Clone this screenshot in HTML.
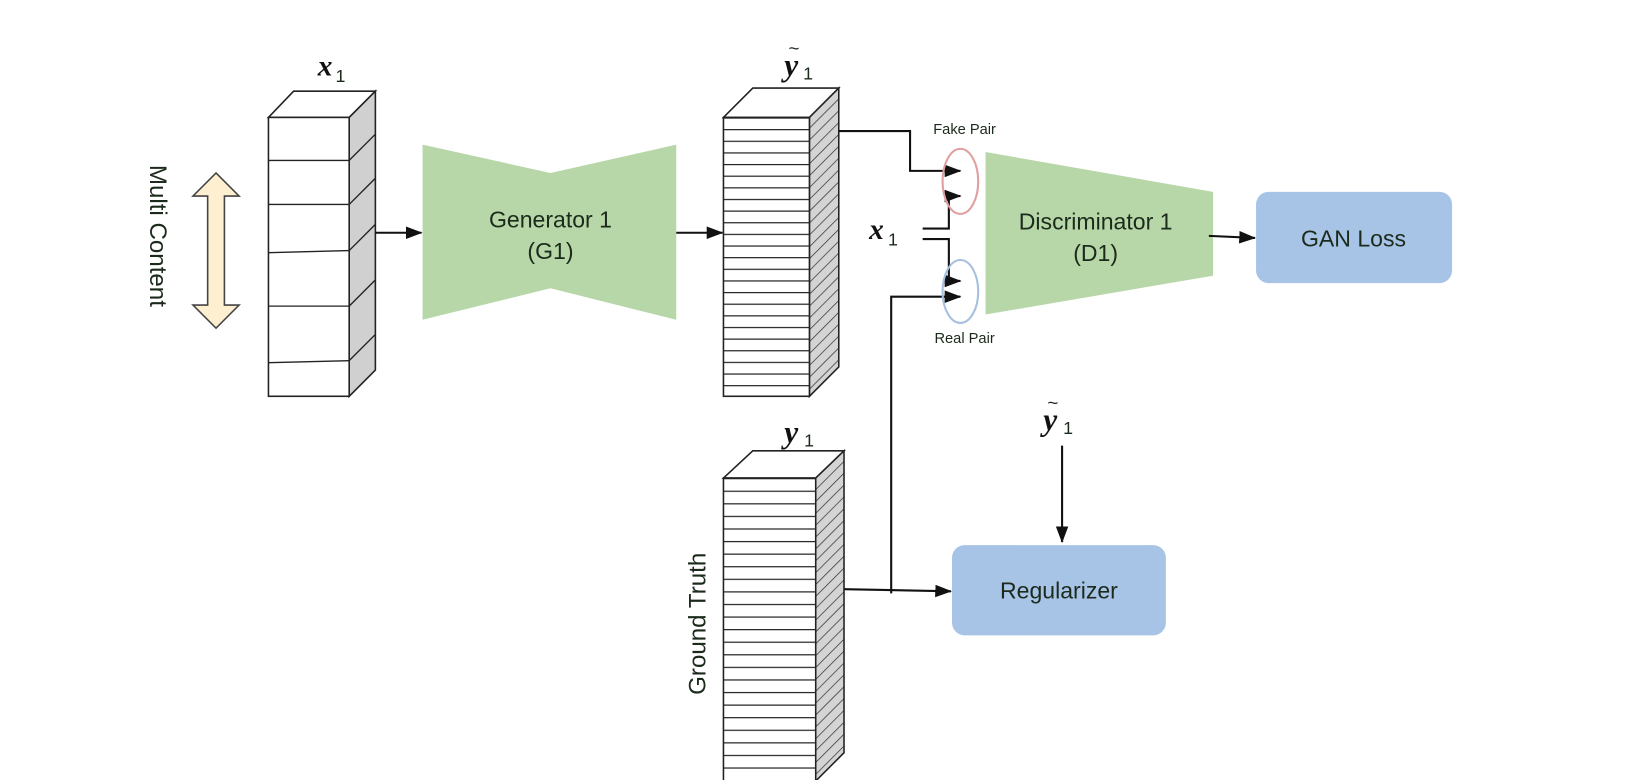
<!DOCTYPE html>
<html><head><meta charset="utf-8"><style>
html,body{margin:0;padding:0;background:#fff;}
svg{display:block;}
text{font-family:"Liberation Sans",sans-serif;fill:#1c2a1c;}
.m{font-family:"Liberation Serif",serif;font-weight:bold;font-style:italic;fill:#111;}
</style></head><body>
<svg width="1644" height="780" viewBox="0 0 1568 744" xmlns="http://www.w3.org/2000/svg">
<defs>
<pattern id="hl" patternUnits="userSpaceOnUse" width="200" height="11.1" y="112"><line x1="0" y1="0.5" x2="200" y2="0.5" stroke="#222" stroke-width="1.3"/></pattern>
<pattern id="hl2" patternUnits="userSpaceOnUse" width="200" height="12" y="456"><line x1="0" y1="0.5" x2="200" y2="0.5" stroke="#222" stroke-width="1.3"/></pattern>
<pattern id="hatch" patternUnits="userSpaceOnUse" width="8" height="8" patternTransform="rotate(-45)"><rect width="8" height="8" fill="#d4d4d4"/><line x1="0" y1="0" x2="8" y2="0" stroke="#333" stroke-width="1.4"/></pattern>
<marker id="arb" markerWidth="16" markerHeight="12" refX="15" refY="6" orient="auto" markerUnits="userSpaceOnUse"><path d="M0,0 L16,6 L0,12 Z" fill="#111"/></marker>
</defs>

<path d="M206,165 L228,187 L214,187 L214,291 L228,291 L206,313 L184,291 L198,291 L198,187 L184,187 Z" fill="#fdefcf" stroke="#444" stroke-width="1.5"/>
<text transform="translate(143,225) rotate(90)" text-anchor="middle" font-size="23">Multi Content</text>

<path d="M256,112 L280,87 L358,87 L333,112 Z" fill="#fff" stroke="#222" stroke-width="1.5"/>
<path d="M333,112 L358,87 L358,353 L333,378 Z" fill="#d0d0d0" stroke="#222" stroke-width="1.5"/>
<rect x="256" y="112" width="77" height="266" fill="#fff" stroke="#222" stroke-width="1.5"/>
<g stroke="#222" stroke-width="1.3">
<line x1="256" y1="153" x2="333" y2="153"/><line x1="333" y1="153" x2="358" y2="128"/>
<line x1="256" y1="195" x2="333" y2="195"/><line x1="333" y1="195" x2="358" y2="170"/>
<line x1="256" y1="241" x2="333" y2="239"/><line x1="333" y1="239" x2="358" y2="214"/>
<line x1="256" y1="292" x2="333" y2="292"/><line x1="333" y1="292" x2="358" y2="267"/>
<line x1="256" y1="346" x2="333" y2="344"/><line x1="333" y1="344" x2="358" y2="319"/>
</g>
<text class="m" x="303" y="72" font-size="28">x</text><text x="320" y="78" font-size="17" fill="#111">1</text>

<line x1="358" y1="222" x2="402" y2="222" stroke="#111" stroke-width="2" marker-end="url(#arb)"/>

<path d="M403,138 L525,165 L645,138 L645,305 L525,275 L403,305 Z" fill="#b7d7a8"/>
<text x="525" y="217" text-anchor="middle" font-size="22">Generator 1</text>
<text x="525" y="247" text-anchor="middle" font-size="22">(G1)</text>

<line x1="645" y1="222" x2="689" y2="222" stroke="#111" stroke-width="2" marker-end="url(#arb)"/>

<path d="M690,112 L718,84 L800,84 L772,112 Z" fill="#fff" stroke="#222" stroke-width="1.5"/>
<path d="M772,112 L800,84 L800,350 L772,378 Z" fill="url(#hatch)" stroke="#222" stroke-width="1.5"/>
<rect x="690" y="112" width="82" height="266" fill="#fff"/>
<rect x="690" y="112" width="82" height="266" fill="url(#hl)"/>
<rect x="690" y="112" width="82" height="266" fill="none" stroke="#222" stroke-width="1.5"/>
<text class="m" x="748" y="72" font-size="30">y</text><text x="766" y="76" font-size="17" fill="#111">1</text>
<text x="752" y="52" font-size="18" fill="#111">~</text>

<polyline points="800,125 868,125 868,163 916,163" fill="none" stroke="#111" stroke-width="2" marker-end="url(#arb)"/>
<text class="m" x="829" y="228" font-size="28">x</text><text x="847" y="234" font-size="17" fill="#111">1</text>
<polyline points="880,218 905,218 905,187 916,187" fill="none" stroke="#111" stroke-width="2" marker-end="url(#arb)"/>
<polyline points="880,228 905,228 905,268 916,268" fill="none" stroke="#111" stroke-width="2" marker-end="url(#arb)"/>
<polyline points="850,566 850,283 916,283" fill="none" stroke="#111" stroke-width="2" marker-end="url(#arb)"/>
<ellipse cx="916" cy="173" rx="17" ry="31" fill="none" stroke="#e0a0a0" stroke-width="2"/>
<ellipse cx="916" cy="278" rx="17" ry="30" fill="none" stroke="#a8c0e0" stroke-width="2"/>
<text x="920" y="128" text-anchor="middle" font-size="14">Fake Pair</text>
<text x="920" y="327" text-anchor="middle" font-size="14">Real Pair</text>

<path d="M940,145 L1157,183 L1157,263 L940,300 Z" fill="#b7d7a8"/>
<text x="1045" y="219" text-anchor="middle" font-size="22">Discriminator 1</text>
<text x="1045" y="249" text-anchor="middle" font-size="22">(D1)</text>

<line x1="1153" y1="225" x2="1197" y2="227" stroke="#111" stroke-width="2" marker-end="url(#arb)"/>

<rect x="1198" y="183" width="187" height="87" rx="12" fill="#a7c4e7"/>
<text x="1291" y="235" text-anchor="middle" font-size="22">GAN Loss</text>

<path d="M690,456 L718,430 L805,430 L778,456 Z" fill="#fff" stroke="#222" stroke-width="1.5"/>
<path d="M778,456 L805,430 L805,718 L778,745 Z" fill="url(#hatch)" stroke="#222" stroke-width="1.5"/>
<rect x="690" y="456" width="88" height="289" fill="#fff"/>
<rect x="690" y="456" width="88" height="289" fill="url(#hl2)"/>
<rect x="690" y="456" width="88" height="289" fill="none" stroke="#222" stroke-width="1.5"/>
<text class="m" x="748" y="422" font-size="30">y</text><text x="767" y="426" font-size="17" fill="#111">1</text>
<text transform="translate(673,595) rotate(-90)" text-anchor="middle" font-size="23">Ground Truth</text>

<line x1="805" y1="562" x2="907" y2="564" stroke="#111" stroke-width="2" marker-end="url(#arb)"/>

<rect x="908" y="520" width="204" height="86" rx="12" fill="#a7c4e7"/>
<text x="1010" y="571" text-anchor="middle" font-size="22">Regularizer</text>

<text class="m" x="995" y="410" font-size="30">y</text><text x="1014" y="414" font-size="17" fill="#111">1</text>
<text x="999" y="390" font-size="18" fill="#111">~</text>
<line x1="1013" y1="425" x2="1013" y2="517" stroke="#111" stroke-width="2" marker-end="url(#arb)"/>
</svg>
</body></html>
